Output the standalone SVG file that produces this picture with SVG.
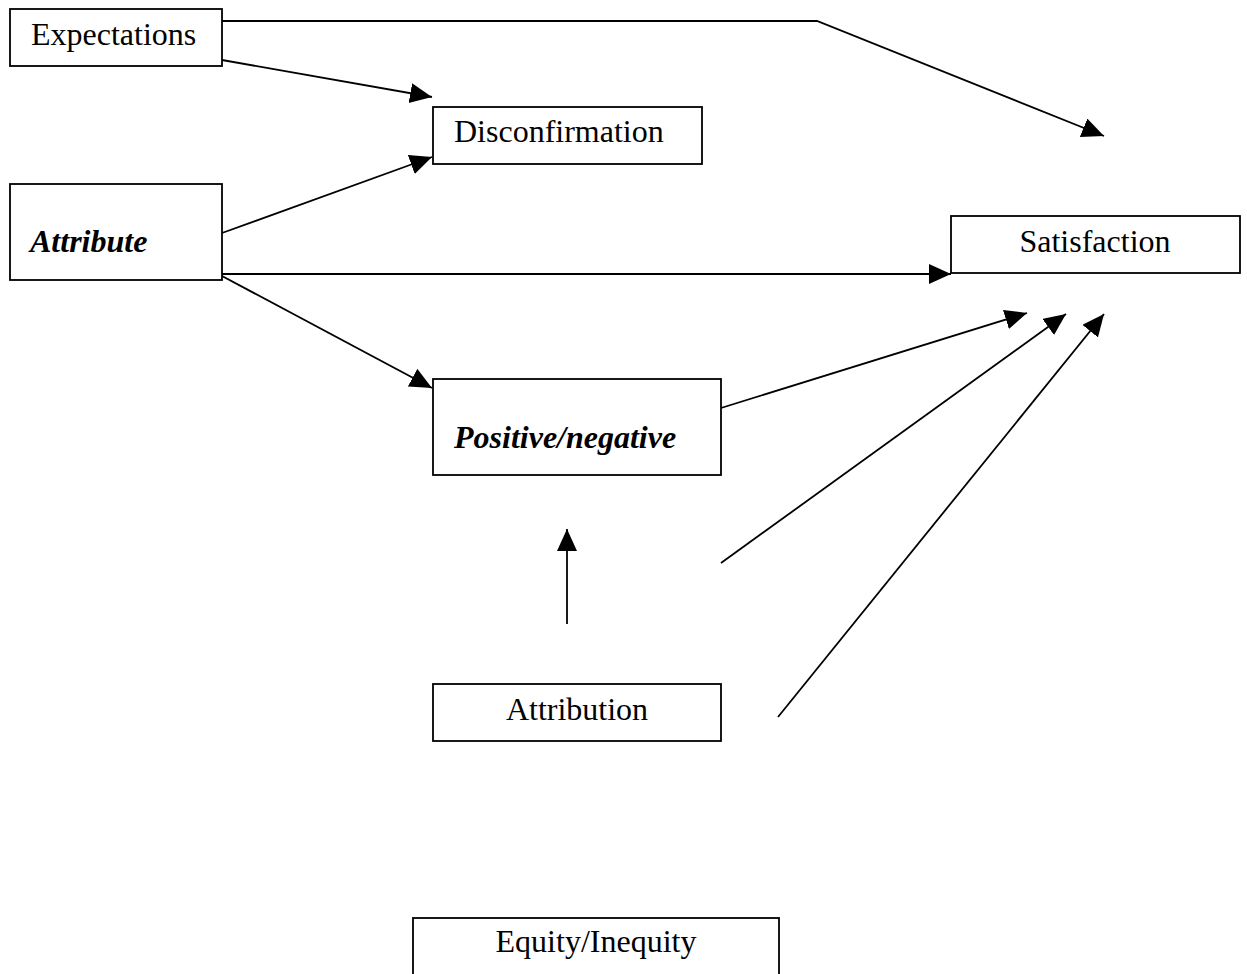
<svg xmlns="http://www.w3.org/2000/svg" width="1247" height="974" viewBox="0 0 1247 974">
<style>
.box{fill:#fff;stroke:#000;stroke-width:1.8}
.t{font-family:"Liberation Serif","Times New Roman",serif;font-size:32px;fill:#000}
.bi{font-weight:bold;font-style:italic}
.c{fill:none;stroke:#000;stroke-width:1.8}
</style>
<defs>
<marker id="ah" markerUnits="userSpaceOnUse" markerWidth="24" markerHeight="22" refX="22" refY="10" orient="auto">
<path d="M0,0 L22,10 L0,20 z" fill="#000"/>
</marker>
</defs>
<rect width="1247" height="974" fill="#fff"/>
<g id="connectors">
<polyline class="c" points="222,21 817,21 1104,136" marker-end="url(#ah)"/>
<line class="c" x1="222" y1="60" x2="432" y2="97" marker-end="url(#ah)"/>
<line class="c" x1="222" y1="233" x2="432" y2="157" marker-end="url(#ah)"/>
<line class="c" x1="222" y1="274" x2="951" y2="274" marker-end="url(#ah)"/>
<line class="c" x1="222" y1="276" x2="432" y2="388" marker-end="url(#ah)"/>
<line class="c" x1="721" y1="408" x2="1027" y2="313" marker-end="url(#ah)"/>
<line class="c" x1="721" y1="563" x2="1066" y2="314" marker-end="url(#ah)"/>
<line class="c" x1="778" y1="717" x2="1104" y2="314" marker-end="url(#ah)"/>
<line class="c" x1="567" y1="624" x2="567" y2="529" marker-end="url(#ah)"/>
</g>
<g id="expectations">
<rect class="box" x="10" y="9" width="212" height="57"/>
<text class="t" x="31" y="45">Expectations</text>
</g>
<g id="disconfirmation">
<rect class="box" x="433" y="107" width="269" height="57"/>
<text class="t" x="454" y="142">Disconfirmation</text>
</g>
<g id="attribute">
<rect class="box" x="10" y="184" width="212" height="96"/>
<text class="t bi" x="30" y="252">Attribute</text>
</g>
<g id="satisfaction">
<rect class="box" x="951" y="216" width="289" height="57"/>
<text class="t" x="1095" y="252" text-anchor="middle">Satisfaction</text>
</g>
<g id="positive-negative">
<rect class="box" x="433" y="379" width="288" height="96"/>
<text class="t bi" x="454" y="448">Positive/negative</text>
</g>
<g id="attribution">
<rect class="box" x="433" y="684" width="288" height="57"/>
<text class="t" x="577" y="720" text-anchor="middle">Attribution</text>
</g>
<g id="equity-inequity">
<rect class="box" x="413" y="918" width="366" height="70"/>
<text class="t" x="596" y="952" text-anchor="middle">Equity/Inequity</text>
</g>
</svg>
